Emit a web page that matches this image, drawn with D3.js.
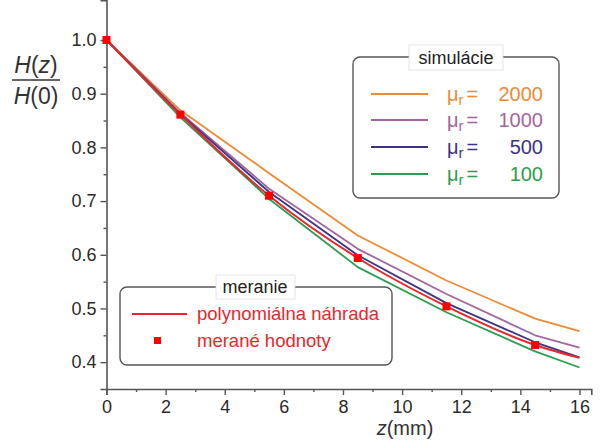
<!DOCTYPE html>
<html>
<head>
<meta charset="utf-8">
<script src="https://cdn.jsdelivr.net/npm/d3@7"></script>
<style>
  html, body { margin: 0; padding: 0; background: #fff; }
  svg { display: block; font-family: "Liberation Sans", Arial, sans-serif; }
</style>
</head>
<body>
<svg id="chart" width="606" height="441"></svg>
<script>
// Simulated field decay H(z)/H(0) for several relative permeabilities
const zSim = [0, 2.5, 5.5, 8.5, 11.5, 14.5, 16];
const mu2000 = [1.0, 0.869, 0.752, 0.636, 0.552, 0.481, 0.458];
const mu1000 = [1.0, 0.864, 0.723, 0.611, 0.527, 0.450, 0.427];
const mu500  = [1.0, 0.862, 0.717, 0.599, 0.510, 0.437, 0.409];
const mu100  = [1.0, 0.856, 0.704, 0.577, 0.493, 0.420, 0.390];

// Measured values and their polynomial fit
const zMeas = [0, 2.5, 5.5, 8.5, 11.5, 14.5];
const hMeas = [1.0, 0.861, 0.710, 0.594, 0.504, 0.432];
const zFit = [0, 2.5, 5.5, 8.5, 11.5, 14.5, 16];
const hFit = [1.0, 0.861, 0.710, 0.594, 0.504, 0.432, 0.408];

const xTicks = [0, 2, 4, 6, 8, 10, 12, 14, 16];
const yTicks = [0.4, 0.5, 0.6, 0.7, 0.8, 0.9, 1.0];
const simLabels = ["2000", "1000", "500", "100"];

const svg = d3.select("#chart");
const x = d3.scaleLinear().domain([0, 16.4]).range([106.5, 591.3]);
const y = d3.scaleLinear().domain([0.35, 1.0]).range([389, 40]);
const yTop = 1.074;
const yAxisScale = y.copy().domain([0.35, yTop]).range([389, y(yTop)]);

const axisColor = "#555";
const textColor = "#333";

// ---- axes ----
const xAxis = svg.append("g").attr("transform", `translate(0,${y(0.35)})`)
  .call(d3.axisBottom(x).tickValues(xTicks).tickFormat(d3.format("d")).tickSize(6).tickPadding(5));
const xMinor = svg.append("g").attr("transform", `translate(0,${y(0.35)})`)
  .call(d3.axisBottom(x).tickValues(d3.range(1, 16, 2)).tickFormat("").tickSize(3));
const yAxis = svg.append("g").attr("transform", `translate(${x(0)},0)`)
  .call(d3.axisLeft(yAxisScale).tickValues(yTicks).tickFormat(d3.format(".1f")).tickSize(6).tickPadding(4));
const yMinor = svg.append("g").attr("transform", `translate(${x(0)},0)`)
  .call(d3.axisLeft(yAxisScale).tickValues([0.45, 0.55, 0.65, 0.75, 0.85, 0.95]).tickFormat("").tickSize(3));

[xAxis, xMinor, yAxis, yMinor].forEach(g => {
  g.select(".domain").attr("stroke", axisColor).attr("stroke-width", 1.6);
  g.selectAll(".tick line").attr("stroke", axisColor).attr("stroke-width", 1.4);
  g.selectAll(".tick text").attr("fill", "#2a2a2a").attr("font-size", 18)
    .attr("font-family", "Liberation Sans, Arial, sans-serif");
});
xMinor.select(".domain").remove();
yMinor.select(".domain").remove();

// ---- axis titles ----
const yl = svg.append("g").attr("fill", textColor).attr("font-size", 23);
yl.append("text").attr("x", 36).attr("y", 73).attr("text-anchor", "middle")
  .html('<tspan font-style="italic">H</tspan>(<tspan font-style="italic">z</tspan>)');
yl.append("line").attr("x1", 12).attr("x2", 60).attr("y1", 80).attr("y2", 80)
  .attr("stroke", textColor).attr("stroke-width", 1.4);
yl.append("text").attr("x", 36).attr("y", 104).attr("text-anchor", "middle")
  .html('<tspan font-style="italic">H</tspan>(0)');

svg.append("text").attr("x", 405).attr("y", 435).attr("text-anchor", "middle")
  .attr("fill", textColor).attr("font-size", 20)
  .html('<tspan font-style="italic">z</tspan>(mm)');

// ---- simulation curves (polylines through the simulated points) ----
const simColors = ["#ef8a34", "#a4649c", "#3b3385", "#2a9d4e"];
const simSeries = [mu2000, mu1000, mu500, mu100];
const simLine = d3.line().x(d => x(d[0])).y(d => y(d[1]));
simSeries.forEach((s, i) => {
  svg.append("path").datum(zSim.map((z, j) => [z, s[j]]))
    .attr("d", simLine).attr("fill", "none")
    .attr("stroke", simColors[i]).attr("stroke-width", 1.8)
    .attr("stroke-linejoin", "round");
});

// ---- measured data with smooth fit ----
const red = "#e8272a";
const fitLine = d3.line().x(d => x(d[0])).y(d => y(d[1])).curve(d3.curveMonotoneX);
svg.append("path").datum(zFit.map((z, j) => [z, hFit[j]]))
  .attr("d", fitLine).attr("fill", "none").attr("stroke", red).attr("stroke-width", 2);
svg.selectAll("rect.meas").data(zMeas.map((z, j) => [z, hMeas[j]])).enter()
  .append("rect").attr("class", "meas")
  .attr("x", d => x(d[0]) - 4).attr("y", d => y(d[1]) - 4)
  .attr("width", 8).attr("height", 8).attr("fill", "#ff0000");

// ---- legend: simulations ----
const lg1 = svg.append("g");
lg1.append("rect").attr("x", 353).attr("y", 57).attr("width", 206).attr("height", 141)
  .attr("rx", 7).attr("fill", "#fff").attr("stroke", "#555").attr("stroke-width", 1.4);
lg1.append("rect").attr("x", 409).attr("y", 45).attr("width", 94).attr("height", 25)
  .attr("fill", "#fff").attr("stroke", "#ddd").attr("stroke-width", 0.8);
lg1.append("text").attr("x", 456).attr("y", 64).attr("text-anchor", "middle")
  .attr("fill", "#222").attr("font-size", 18).text("simulácie");
const rowY = [94, 120, 147, 174];
simLabels.forEach((lab, i) => {
  lg1.append("line").attr("x1", 371).attr("x2", 428).attr("y1", rowY[i]).attr("y2", rowY[i])
    .attr("stroke", simColors[i]).attr("stroke-width", 1.8);
  const t = lg1.append("text").attr("x", 447).attr("y", rowY[i] + 7)
    .attr("fill", simColors[i]).attr("font-size", 20);
  t.append("tspan").text("μ");
  t.append("tspan").attr("font-size", 15).attr("dy", 4).text("r");
  t.append("tspan").attr("dy", -4).attr("dx", 3).text("=");
  lg1.append("text").attr("x", 543).attr("y", rowY[i] + 7).attr("text-anchor", "end")
    .attr("fill", simColors[i]).attr("font-size", 20).text(lab);
});

// ---- legend: measurement ----
const lg2 = svg.append("g");
lg2.append("rect").attr("x", 120).attr("y", 287).attr("width", 272).attr("height", 78)
  .attr("rx", 7).attr("fill", "#fff").attr("stroke", "#555").attr("stroke-width", 1.4);
lg2.append("rect").attr("x", 216).attr("y", 275).attr("width", 79).attr("height", 24)
  .attr("fill", "#fff").attr("stroke", "#ddd").attr("stroke-width", 0.8);
lg2.append("text").attr("x", 255).attr("y", 293).attr("text-anchor", "middle")
  .attr("fill", "#222").attr("font-size", 18).text("meranie");
lg2.append("line").attr("x1", 132).attr("x2", 187).attr("y1", 314).attr("y2", 314)
  .attr("stroke", red).attr("stroke-width", 2);
lg2.append("rect").attr("x", 154).attr("y", 337).attr("width", 7).attr("height", 7).attr("fill", "#ff0000");
lg2.append("text").attr("x", 197).attr("y", 320).attr("fill", red).attr("font-size", 18.5)
  .text("polynomiálna náhrada");
lg2.append("text").attr("x", 197).attr("y", 347).attr("fill", red).attr("font-size", 18.5)
  .text("merané hodnoty");
</script>
</body>
</html>
